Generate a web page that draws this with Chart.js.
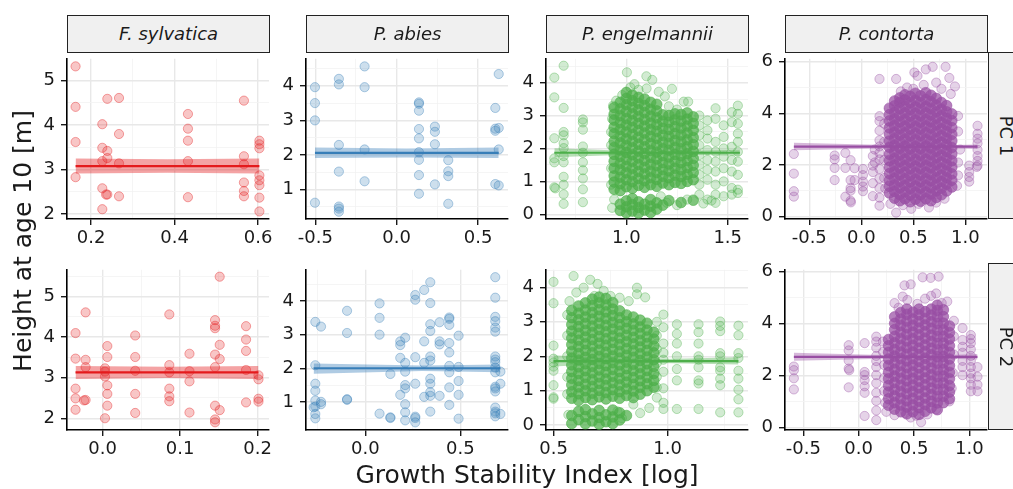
<!DOCTYPE html>
<html>
<head>
<meta charset="utf-8">
<script src="https://cdn.jsdelivr.net/npm/chart.js@4.4.1/dist/chart.umd.min.js"></script>
<style>
  body { margin: 0; background: #fff; width: 1013px; height: 489px; overflow: hidden; position: relative; font-family: "DejaVu Sans", sans-serif; color: #1a1a1a; }
  .pannello { position: absolute; }
  .strip { position: absolute; background: #f0f0f0; border: 1px solid #222; box-sizing: border-box; font-size: 18px; font-style: italic; text-align: center; line-height: 35px; z-index: 2; }
  .stripdx { position: absolute; background: #f0f0f0; border: 1px solid #222; box-sizing: border-box; z-index: 2; overflow: hidden; }
  .stripdx span { position: absolute; left: 50%; top: 50%; width: 100px; margin-left: -50px; height: 24px; margin-top: -12px; line-height: 24px; text-align: center; font-size: 18px; transform: rotate(90deg); }
  .titolo { position: absolute; font-size: 25px; text-align: center; height: 30px; line-height: 30px; white-space: nowrap; }
</style>
</head>
<body>
<script>
// Nomi dei pannelli
const speciesNames = ['F. sylvatica', 'P. abies', 'P. engelmannii', 'P. contorta'];
const rowNames = ['PC 1', 'PC 2'];
const speciesRgb = ['228,26,28', '55,126,184', '77,175,74', '152,78,163'];

// Dati: [x, y]
const sylvPc1 = [[0.163,5.32],[0.163,4.41],[0.163,3.62],[0.163,2.83],[0.227,4.02],[0.227,3.49],[0.227,3.19],[0.227,2.58],[0.227,2.11],[0.239,4.59],[0.239,3.42],[0.239,3.26],[0.239,2.44],[0.236,2.44],[0.267,4.61],[0.267,3.8],[0.267,3.14],[0.267,2.4],[0.432,4.25],[0.432,3.92],[0.432,3.65],[0.432,3.19],[0.432,2.38],[0.566,4.55],[0.566,3.3],[0.566,3.12],[0.566,2.71],[0.566,2.52],[0.566,2.4],[0.603,3.65],[0.603,3.57],[0.603,3.48],[0.603,2.87],[0.603,2.76],[0.603,2.65],[0.603,2.37],[0.603,2.06]];
const abiesPc1 = [[-0.502,3.96],[-0.502,3.5],[-0.502,3.0],[-0.502,0.62],[-0.355,4.2],[-0.355,4.04],[-0.355,2.29],[-0.355,1.52],[-0.355,0.51],[-0.355,0.45],[-0.355,0.36],[-0.197,4.56],[-0.197,3.96],[-0.197,2.16],[-0.197,1.24],[0.137,3.52],[0.137,3.48],[0.137,3.28],[0.137,2.75],[0.137,2.48],[0.137,2.08],[0.137,1.86],[0.137,1.42],[0.137,0.88],[0.235,2.82],[0.235,2.67],[0.235,2.31],[0.235,1.15],[0.317,1.85],[0.317,1.53],[0.317,1.39],[0.317,0.59],[0.606,3.36],[0.606,2.76],[0.606,2.7],[0.627,2.78],[0.627,4.34],[0.627,2.16],[0.606,1.16],[0.627,1.12]];
const engelPc1 = [[0.645,4.15],[0.645,3.55],[0.645,2.31],[0.645,1.7],[0.645,1.58],[0.645,0.82],[0.65,0.79],[0.691,4.51],[0.691,3.23],[0.691,2.5],[0.691,2.4],[0.691,2.16],[0.691,2.01],[0.691,1.77],[0.691,1.58],[0.691,1.14],[0.691,0.9],[0.691,0.61],[0.691,0.32],[0.786,2.88],[0.786,2.79],[0.786,2.57],[0.786,2.06],[0.786,1.87],[0.786,1.58],[0.786,1.34],[0.786,1.09],[0.786,0.76],[0.786,0.37],
  [1.003,4.31],[1.099,4.19],[1.128,4.08],[1.02,3.85],[1.06,3.78],[1.1,3.82],[1.16,3.72],[1.225,3.81],[1.19,3.58],[1.283,3.42],[1.305,3.42],[0.95,3.45],[0.98,3.62],[1.21,3.28],[1.25,3.18],[0.935,3.3],[1.04,3.95],
  [1.36,3.0],[1.36,2.7],[1.36,2.4],[1.36,2.1],[1.36,1.8],[1.36,1.5],[1.36,1.2],[1.36,0.9],[1.36,0.6],[1.4,2.85],[1.4,2.55],[1.4,2.3],[1.4,1.95],[1.4,1.65],[1.4,1.35],[1.4,1.05],[1.4,0.45],[1.44,3.22],[1.44,2.9],[1.44,2.2],[1.44,1.9],[1.44,1.6],[1.44,1.3],[1.44,0.9],[1.44,0.6],[1.44,0.35],[1.48,2.7],[1.48,2.35],[1.48,2.0],[1.48,1.75],[1.48,1.4],[1.48,1.0],[1.48,0.55],[1.52,3.1],[1.52,2.8],[1.52,2.05],[1.52,1.65],[1.52,1.3],[1.52,0.8],[1.52,0.6],[1.55,3.3],[1.55,3.05],[1.55,2.75],[1.55,2.45],[1.55,2.2],[1.55,1.9],[1.55,1.6],[1.55,1.2],[1.55,0.75],[1.55,0.65],
  [1.2,0.35],[1.25,0.28],[1.3,0.45],[1.38,0.33],[1.42,0.42],[1.17,0.55],[0.94,0.45],[0.93,0.2],[0.925,2.5],[0.925,1.4],[0.925,0.9],[0.93,2.9],[0.925,2.1]];
const contPc1 = [[-0.648,2.43],[-0.648,1.67],[-0.648,0.99],[-0.648,0.78],[-0.256,2.37],[-0.256,2.22],[-0.256,1.89],[-0.256,1.42],[-0.153,2.47],[-0.153,1.89],[-0.153,0.78],[-0.103,2.19],[-0.103,1.42],[-0.103,1.11],[-0.103,1.01],[-0.103,0.62],[-0.1,0.56],[-0.064,1.88],[-0.064,1.42],[0.016,1.85],[0.016,1.61],[0.016,1.36],[0.016,1.17],[0.016,0.99],[0.111,2.35],[0.111,1.98],[0.111,1.73],[0.111,1.3],[0.111,0.8],[0.13,2.6],[0.13,2.1],
  [0.175,5.33],[0.175,3.89],[0.175,3.7],[0.175,3.33],[0.175,2.96],[0.175,2.72],[0.175,2.47],[0.175,2.22],[0.175,1.85],[0.175,1.48],[0.175,1.11],[0.175,0.74],[0.175,0.43],
  [0.335,5.33],[0.51,5.58],[0.62,5.7],[0.686,5.8],[0.81,5.8],[0.846,5.37],[0.9,5.04],[0.72,5.19],[0.54,5.45],[0.6,5.1],[0.44,5.0],[0.38,4.85],[0.77,4.95],[0.86,4.75],[0.5,4.95],
  [0.335,0.16],[0.48,0.31],[0.65,0.36],[0.28,0.5],[0.4,0.45],[0.55,0.5],[0.72,0.55],[0.8,0.7],
  [1.037,1.98],[1.037,1.73],[1.037,1.54],[1.037,1.36],[1.117,3.52],[1.117,3.21],[1.117,3.02],[1.117,2.84],[1.117,2.59],[1.117,2.35],[1.117,2.16],[1.117,1.98],[1.11,1.93],
  [0.93,3.9],[0.93,3.3],[0.93,2.1],[0.93,1.6],[0.92,1.2],[0.95,2.6],[0.22,3.6],[0.22,2.9],[0.22,2.2],[0.22,1.5],[0.23,1.1]];
const sylvPc2 = [[-0.035,4.1],[-0.035,3.47],[-0.035,2.73],[-0.035,2.49],[-0.035,2.21],[-0.022,4.61],[-0.022,3.44],[-0.022,3.26],[-0.022,2.45],[-0.024,2.44],[0.003,3.23],[0.003,3.15],[0.003,3.03],[0.003,2.0],[0.006,3.78],[0.006,3.51],[0.006,2.81],[0.006,2.6],[0.006,2.31],[0.042,4.04],[0.042,3.51],[0.042,3.17],[0.042,2.6],[0.042,2.13],[0.086,4.56],[0.086,3.31],[0.086,3.13],[0.086,2.73],[0.086,2.54],[0.086,2.42],[0.112,3.59],[0.112,3.16],[0.112,2.91],[0.112,2.14],[0.145,4.42],[0.145,4.28],[0.145,4.22],[0.145,3.57],[0.145,3.26],[0.145,2.31],[0.145,1.97],[0.145,1.9],[0.151,5.49],[0.151,3.81],[0.151,3.46],[0.151,2.2],[0.185,4.27],[0.185,3.94],[0.185,3.66],[0.185,3.19],[0.185,2.39],[0.201,3.06],[0.201,2.96],[0.201,2.48],[0.201,2.41]];
const abiesPc2 = [[-0.263,3.38],[-0.263,2.09],[-0.263,1.54],[-0.263,1.33],[-0.263,1.04],[-0.263,0.86],[-0.263,0.64],[-0.263,0.51],[-0.272,0.84],[-0.233,3.24],[-0.233,1.0],[-0.233,0.93],[-0.096,3.71],[-0.096,3.05],[-0.096,1.08],[-0.096,1.06],[0.075,3.93],[0.075,3.5],[0.075,3.0],[0.075,0.65],[0.132,1.83],[0.132,0.54],[0.132,0.52],[0.184,2.8],[0.184,2.69],[0.184,2.31],[0.184,1.21],[0.21,2.91],[0.21,2.16],[0.21,1.9],[0.21,1.5],[0.21,1.4],[0.21,0.93],[0.21,0.69],[0.21,0.45],[0.263,4.18],[0.263,4.04],[0.263,2.33],[0.263,1.54],[0.263,0.56],[0.263,0.52],[0.263,0.39],[0.31,4.33],[0.31,2.8],[0.31,2.16],[0.31,1.15],[0.342,4.56],[0.342,3.94],[0.342,3.31],[0.342,3.11],[0.342,2.35],[0.342,2.23],[0.342,1.69],[0.342,1.54],[0.342,1.29],[0.342,1.18],[0.342,0.71],[0.391,3.37],[0.391,2.8],[0.391,2.71],[0.391,1.18],[0.442,3.51],[0.442,3.47],[0.442,3.29],[0.442,2.75],[0.442,2.47],[0.442,2.07],[0.442,1.88],[0.442,1.43],[0.442,0.91],[0.491,2.97],[0.491,2.04],[0.491,1.62],[0.491,1.21],[0.491,0.5],[0.684,4.71],[0.684,4.1],[0.684,3.53],[0.684,3.4],[0.684,3.21],[0.684,3.09],[0.684,2.35],[0.684,2.26],[0.684,2.18],[0.684,2.02],[0.684,1.88],[0.684,1.45],[0.684,1.4],[0.684,1.31],[0.684,0.83],[0.684,0.71],[0.684,0.66],[0.684,0.57],[0.711,1.9],[0.711,1.54],[0.711,0.64]];
const engelPc2 = [[0.5,4.16],[0.5,3.54],[0.5,2.31],[0.5,1.93],[0.5,1.82],[0.5,1.7],[0.5,1.58],[0.5,1.16],[0.5,0.81],[0.5,0.77],
  [0.588,4.33],[0.661,4.22],[0.693,4.1],[0.632,3.99],[0.866,3.99],[0.866,3.8],[0.902,3.71],[0.6,3.85],[0.72,3.9],[0.75,3.75],[0.79,3.7],[0.83,3.6],[0.57,3.6],[0.68,3.75],
  [0.953,3.0],[0.953,2.6],[0.953,2.2],[0.953,1.8],[0.953,1.4],[0.953,1.1],[0.953,0.8],[0.982,3.21],[0.982,2.84],[0.982,2.37],[0.982,2.1],[0.982,1.9],[0.982,1.55],[0.982,1.07],[0.982,0.65],[0.982,0.47],[1.041,2.93],[1.041,2.65],[1.041,2.37],[1.041,2.0],[1.041,1.63],[1.041,1.3],[1.041,0.47],[1.136,2.93],[1.136,2.7],[1.136,2.37],[1.136,2.0],[1.136,1.9],[1.136,1.68],[1.136,1.3],[1.136,1.21],[1.136,0.47],[1.231,3.01],[1.231,2.88],[1.231,2.73],[1.231,2.09],[1.231,2.0],[1.231,1.68],[1.231,1.58],[1.231,1.35],[1.231,1.16],[1.231,0.37],[1.311,2.89],[1.311,2.61],[1.311,2.09],[1.311,1.95],[1.311,1.58],[1.311,1.35],[1.311,1.03],[1.311,0.75],[1.311,0.37],
  [0.92,0.5],[0.88,0.35],[0.85,0.6],[0.8,0.2],[0.78,0.4],[0.56,3.2],[0.56,2.6],[0.56,2.0],[0.56,1.4],[0.56,0.9],[0.565,0.3]];
const contPc2 = [[-0.585,2.34],[-0.585,2.2],[-0.585,1.89],[-0.585,1.46],[-0.09,3.16],[-0.09,2.96],[-0.09,2.57],[-0.09,2.26],[-0.085,2.2],[-0.09,1.54],[0.054,3.24],[0.054,2.13],[0.054,2.01],[0.054,1.82],[0.054,1.58],[0.054,1.33],[0.054,0.44],[0.159,3.49],[0.159,3.3],[0.159,3.06],[0.159,2.75],[0.159,2.55],[0.159,2.32],[0.159,2.01],[0.159,1.7],[0.159,1.33],[0.159,1.02],[0.159,0.65],[0.159,0.28],
  [0.22,3.3],[0.22,2.9],[0.23,2.4],[0.23,1.9],[0.23,1.4],[0.24,0.95],[0.25,0.6],
  [0.578,5.77],[0.65,5.75],[0.722,5.8],[0.414,5.46],[0.47,5.5],[0.324,4.78],[0.398,5.03],[0.654,5.06],[0.75,4.78],[0.8,4.84],[0.53,4.75],[0.44,4.9],[0.6,4.95],[0.7,5.15],[0.36,4.6],
  [0.564,0.2],[0.52,0.45],[0.47,0.38],[0.324,0.47],[0.62,0.5],[0.7,0.7],[0.42,0.55],
  [0.86,4.1],[0.86,3.5],[0.86,2.8],[0.85,2.1],[0.84,1.5],[0.82,1.0],
  [0.938,3.82],[0.938,3.36],[0.938,3.1],[0.938,2.87],[0.938,2.56],[0.938,2.32],[0.938,2.01],[1.013,3.55],[1.013,3.4],[1.013,3.24],[1.013,3.0],[1.013,2.75],[1.013,2.56],[1.013,2.32],[1.013,2.07],[1.013,1.89],[1.013,1.64],[1.013,1.39],[1.073,2.32],[1.073,1.95],[1.073,1.64],[1.073,1.39]];

// Nuvole dense: [x, [y...]] per colonna
const engelPc1Core = [[0.94,[0.76,0.98,1.17,1.4,1.61,1.82,2.03,2.22,2.45,2.64,2.86,3.04,3.24]],[0.97,[0.12,0.31,0.72,0.93,1.13,1.35,1.55,1.76,1.95,2.17,2.37,2.58,2.78,2.99,3.2,3.4]],[1.0,[0.05,0.23,0.41,0.84,1.05,1.26,1.46,1.67,1.88,2.09,2.29,2.5,2.71,2.91,3.12,3.33,3.52,3.7]],[1.03,[0.1,0.3,0.48,0.79,0.99,1.2,1.4,1.61,1.81,2.02,2.22,2.43,2.64,2.84,3.05,3.25,3.45,3.62]],[1.06,[0.04,0.21,0.38,0.88,1.09,1.3,1.51,1.71,1.92,2.13,2.34,2.55,2.76,2.97,3.17,3.37,3.55]],[1.09,[0.13,0.31,0.82,1.02,1.23,1.43,1.64,1.85,2.05,2.26,2.47,2.68,2.88,3.09,3.3,3.5]],[1.12,[0.06,0.25,0.45,0.9,1.11,1.31,1.52,1.73,1.94,2.15,2.36,2.57,2.77,2.98,3.19,3.4]],[1.15,[0.16,0.35,0.85,1.06,1.27,1.48,1.68,1.89,2.1,2.31,2.52,2.72,2.93,3.14,3.34]],[1.18,[0.28,0.95,1.16,1.36,1.57,1.78,1.99,2.19,2.4,2.61,2.82,3.02]],[1.21,[0.42,0.9,1.11,1.32,1.53,1.74,1.95,2.16,2.37,2.58,2.8,3.0]],[1.24,[0.97,1.19,1.4,1.61,1.82,2.03,2.24,2.45,2.66,2.87,3.05]],[1.27,[0.36,0.94,1.15,1.36,1.57,1.78,1.99,2.2,2.41,2.62,2.83,3.03]],[1.3,[1.0,1.21,1.42,1.63,1.84,2.05,2.26,2.47,2.68,2.89,3.08]],[1.33,[0.43,1.05,1.27,1.49,1.7,1.91,2.12,2.33,2.55,2.76,2.96]]];
const contPc1Core = [[0.27,[0.92,1.18,1.41,1.67,1.92,2.18,2.42,2.69,2.93,3.2,3.44,3.71,3.95,4.2]],[0.32,[0.72,0.98,1.23,1.49,1.74,2.0,2.25,2.51,2.76,3.02,3.27,3.53,3.78,4.04,4.29,4.48]],[0.37,[0.62,0.86,1.12,1.37,1.63,1.88,2.14,2.39,2.65,2.9,3.16,3.41,3.67,3.92,4.18,4.43,4.6]],[0.42,[0.7,0.96,1.21,1.47,1.72,1.98,2.23,2.49,2.74,3.0,3.25,3.51,3.76,4.02,4.27,4.52,4.72]],[0.47,[0.58,0.84,1.09,1.35,1.6,1.86,2.11,2.37,2.62,2.88,3.13,3.39,3.64,3.9,4.15,4.41,4.66]],[0.52,[0.68,0.94,1.19,1.45,1.7,1.96,2.21,2.47,2.72,2.98,3.23,3.49,3.74,4.0,4.25,4.51,4.78]],[0.57,[0.6,0.85,1.11,1.36,1.62,1.87,2.13,2.38,2.64,2.89,3.15,3.4,3.66,3.91,4.17,4.42,4.68]],[0.62,[0.7,0.96,1.21,1.47,1.72,1.98,2.23,2.49,2.74,3.0,3.25,3.51,3.76,4.02,4.27,4.53,4.8]],[0.67,[0.62,0.88,1.13,1.39,1.64,1.9,2.15,2.41,2.66,2.92,3.17,3.43,3.68,3.94,4.19,4.45,4.7]],[0.72,[0.75,1.0,1.26,1.51,1.77,2.02,2.28,2.53,2.79,3.04,3.3,3.55,3.81,4.06,4.32,4.58]],[0.77,[0.85,1.1,1.36,1.61,1.87,2.12,2.38,2.63,2.89,3.14,3.4,3.65,3.91,4.16,4.42]],[0.82,[1.0,1.26,1.51,1.77,2.02,2.28,2.53,2.79,3.04,3.3,3.55,3.81,4.06,4.3]],[0.87,[1.15,1.41,1.66,1.92,2.17,2.43,2.68,2.94,3.19,3.45,3.72,3.98]]];
const engelPc2Core = [[0.58,[0.05,0.28,0.78,0.97,1.17,1.36,1.56,1.75,1.95,2.14,2.34,2.53,2.73,2.92,3.12,3.33]],[0.61,[0.16,0.4,0.72,0.91,1.11,1.3,1.5,1.69,1.89,2.08,2.28,2.47,2.67,2.86,3.06,3.25,3.46]],[0.64,[0.04,0.25,0.45,0.8,1.0,1.19,1.39,1.58,1.78,1.97,2.17,2.36,2.56,2.75,2.95,3.14,3.34,3.55]],[0.67,[0.12,0.33,0.74,0.93,1.13,1.32,1.52,1.71,1.91,2.1,2.3,2.49,2.69,2.88,3.08,3.27,3.47,3.66]],[0.7,[0.03,0.22,0.43,0.82,1.01,1.21,1.4,1.6,1.79,1.99,2.18,2.38,2.57,2.77,2.96,3.16,3.35,3.55,3.72]],[0.73,[0.1,0.3,0.76,0.95,1.15,1.34,1.54,1.73,1.93,2.12,2.32,2.51,2.71,2.9,3.1,3.29,3.49,3.68]],[0.76,[0.05,0.24,0.44,0.84,1.03,1.23,1.42,1.62,1.81,2.01,2.2,2.4,2.59,2.79,2.98,3.18,3.37,3.56]],[0.79,[0.15,0.36,0.78,0.97,1.17,1.36,1.56,1.75,1.95,2.14,2.34,2.53,2.73,2.92,3.12,3.32]],[0.82,[0.28,0.86,1.05,1.25,1.44,1.64,1.83,2.03,2.22,2.42,2.61,2.81,3.0,3.2]],[0.85,[0.8,0.99,1.19,1.38,1.58,1.77,1.97,2.16,2.36,2.55,2.75,2.94,3.14]],[0.88,[0.9,1.1,1.29,1.49,1.68,1.88,2.07,2.27,2.46,2.66,2.85,3.05]],[0.91,[1.0,1.2,1.39,1.59,1.78,1.98,2.17,2.37,2.56,2.76,2.96]],[0.94,[1.1,1.3,1.5,1.7,1.9,2.1,2.3,2.5,2.7]]];
const contPc2Core = [[0.27,[0.85,1.1,1.36,1.61,1.87,2.12,2.38,2.63,2.89,3.14,3.38]],[0.325,[0.7,0.95,1.21,1.46,1.72,1.97,2.23,2.48,2.74,2.99,3.25,3.5,3.76,4.0,4.25]],[0.38,[0.6,0.86,1.11,1.37,1.62,1.88,2.13,2.39,2.64,2.9,3.15,3.41,3.66,3.92,4.17,4.42]],[0.435,[0.52,0.78,1.03,1.29,1.54,1.8,2.05,2.31,2.56,2.82,3.07,3.33,3.58,3.84,4.09,4.35,4.55]],[0.49,[0.6,0.86,1.11,1.37,1.62,1.88,2.13,2.39,2.64,2.9,3.15,3.41,3.66,3.92,4.17,4.43]],[0.545,[0.5,0.76,1.01,1.27,1.52,1.78,2.03,2.29,2.54,2.8,3.05,3.31,3.56,3.82,4.07,4.33,4.55]],[0.6,[0.62,0.88,1.13,1.39,1.64,1.9,2.15,2.41,2.66,2.92,3.17,3.43,3.68,3.94,4.19,4.45]],[0.655,[0.75,1.0,1.26,1.51,1.77,2.02,2.28,2.53,2.79,3.04,3.3,3.55,3.81,4.06,4.32,4.55]],[0.71,[0.68,0.94,1.19,1.45,1.7,1.96,2.21,2.47,2.72,2.98,3.23,3.49,3.74,4.0,4.25,4.5,4.7]],[0.765,[0.95,1.2,1.46,1.71,1.97,2.22,2.48,2.73,2.99,3.24,3.5,3.75,4.01,4.26,4.52]],[0.82,[1.1,1.36,1.61,1.87,2.12,2.38,2.63,2.89,3.14,3.4,3.65,3.9]]];

// Retta di regressione con banda: [x, stima, inferiore, superiore]
const sylvPc1Fit = [[0.163,3.08,2.91,3.25],[0.383,3.08,2.93,3.23],[0.603,3.08,2.91,3.25]];
const abiesPc1Fit = [[-0.502,2.06,1.91,2.22],[0.06,2.06,1.93,2.19],[0.627,2.06,1.91,2.22]];
const engelPc1Fit = [[0.645,1.87,1.73,2.01],[1.1,1.87,1.83,1.91],[1.56,1.87,1.78,1.96]];
const contPc1Fit = [[-0.648,2.71,2.57,2.86],[0.55,2.71,2.67,2.75],[1.117,2.71,2.62,2.8]];
const sylvPc2Fit = [[-0.035,3.13,2.97,3.29],[0.083,3.13,2.99,3.27],[0.201,3.13,2.97,3.29]];
const abiesPc2Fit = [[-0.272,2.0,1.84,2.14],[0.3,2.0,1.92,2.08],[0.711,2.0,1.88,2.11]];
const engelPc2Fit = [[0.5,1.86,1.7,2.03],[0.85,1.86,1.82,1.9],[1.311,1.86,1.76,1.97]];
const contPc2Fit = [[-0.585,2.71,2.56,2.87],[0.55,2.71,2.67,2.75],[1.073,2.71,2.61,2.82]];

// Limiti degli assi e tacche
const xLimits = [[0.1425,0.626],[-0.557,0.684],[0.604,1.6],[-0.733,1.208],[-0.046,0.2146],[-0.312,0.751],[0.467,1.353],[-0.665,1.159]];
const yLimits = [[1.89,5.49],[0.15,4.78],[-0.14,4.72],[-0.085,6.11],[1.71,5.66],[0.163,4.93],[-0.14,4.51],[-0.1,6.06]];
const xMajor = [[0.2,0.4,0.6],[-0.5,0,0.5],[1,1.5],[-0.5,0,0.5,1],[0,0.1,0.2],[0,0.5],[0.5,1],[-0.5,0,0.5,1]];
const xMinor = [[0.3,0.5],[-0.25,0.25],[0.75,1.25],[-0.25,0.25,0.75],[0.05,0.15],[-0.25,0.25,0.75],[0.75,1.25],[-0.25,0.25,0.75]];
const yMajor = [[2,3,4,5],[1,2,3,4],[0,1,2,3,4],[0,2,4,6],[2,3,4,5],[1,2,3,4],[0,1,2,3,4],[0,2,4,6]];
const yMinor = [[2.5,3.5,4.5],[0.5,1.5,2.5,3.5,4.5],[0.5,1.5,2.5,3.5,4.5],[1,3,5],[2.5,3.5,4.5,5.5],[0.5,1.5,2.5,3.5,4.5],[0.5,1.5,2.5,3.5,4.5],[1,3,5]];

const panelPoints = [sylvPc1, abiesPc1, engelPc1, contPc1, sylvPc2, abiesPc2, engelPc2, contPc2];
const panelCores = [null, null, engelPc1Core, contPc1Core, null, null, engelPc2Core, contPc2Core];
const panelFits = [sylvPc1Fit, abiesPc1Fit, engelPc1Fit, contPc1Fit, sylvPc2Fit, abiesPc2Fit, engelPc2Fit, contPc2Fit];

// Geometria dei pannelli (pixel)
const colLeft = [67, 306, 546, 785];
const rowTop = [52, 263];
const plotW = 202, plotH = 167;
const yAxisW = 40, xAxisH = 34, padTop = 10, padRight = 20;

const fontTick = { family: 'DejaVu Sans', size: 18 };

function creaAsse(min, max, major, minor, isX) {
  return {
    type: 'linear', min: min, max: max,
    afterBuildTicks: function (s) {
      s.ticks = major.map(v => ({ value: v })).concat(minor.map(v => ({ value: v, minor: true })));
    },
    afterFit: function (s) {
      if (isX) s.height = xAxisH; else s.width = yAxisW;
    },
    ticks: {
      autoSkip: false, maxRotation: 0, minRotation: 0,
      padding: isX ? 3 : 6,
      color: '#1a1a1a', font: fontTick,
      callback: function (v, i, t) { return t[i].minor ? '' : (isX ? v.toFixed(1) : String(v)); }
    },
    grid: {
      color: c => (c.tick && c.tick.minor) ? '#f3f3f3' : '#e8e8e8',
      lineWidth: c => (c.tick && c.tick.minor) ? 0.8 : 1.4,
      tickColor: c => (c.tick && c.tick.minor) ? 'rgba(0,0,0,0)' : '#1a1a1a',
      tickWidth: 1.4,
      tickLength: 6,
      drawTicks: true
    },
    border: { display: true, color: '#000', width: 1.6 }
  };
}

for (let i = 0; i < 8; i++) {
  const col = i % 4, row = Math.floor(i / 4);
  const rgb = speciesRgb[col];
  const wrap = document.createElement('div');
  wrap.className = 'pannello';
  wrap.style.left = (colLeft[col] - yAxisW) + 'px';
  wrap.style.top = (rowTop[row] - padTop) + 'px';
  const cw = yAxisW + plotW + padRight, ch = padTop + plotH + xAxisH;
  const canvas = document.createElement('canvas');
  canvas.width = cw; canvas.height = ch;
  canvas.style.width = cw + 'px'; canvas.style.height = ch + 'px';
  wrap.appendChild(canvas);
  document.body.appendChild(wrap);

  const fit = panelFits[i];
  const datasets = [
    { data: fit.map(r => ({ x: r[0], y: r[1] })), showLine: true, borderColor: 'rgb(' + rgb + ')', borderWidth: 2.2, pointRadius: 0, order: 0 },
    { data: fit.map(r => ({ x: r[0], y: r[3] })), showLine: true, borderColor: 'rgba(0,0,0,0)', borderWidth: 0, pointRadius: 0, fill: '+1', backgroundColor: 'rgba(' + rgb + ',0.4)', order: 1 },
    { data: fit.map(r => ({ x: r[0], y: r[2] })), showLine: true, borderColor: 'rgba(0,0,0,0)', borderWidth: 0, pointRadius: 0, order: 1 },
    { data: panelPoints[i].map(p => ({ x: p[0], y: p[1] })), pointRadius: 4.6, borderWidth: 1, backgroundColor: 'rgba(' + rgb + ',0.25)', borderColor: 'rgba(' + rgb + ',0.38)', order: 2 }
  ];
  if (panelCores[i]) {
    // nuvola fitta: i punti sovrapposti diventano quasi pieni
    datasets.push({ data: panelCores[i].flatMap(c => c[1].map(y => ({ x: c[0], y: y }))), pointRadius: 5.3, borderWidth: 1, backgroundColor: 'rgba(' + rgb + ',0.72)', borderColor: 'rgba(' + rgb + ',0.6)', order: 3 });
  }

  new Chart(canvas, {
    type: 'scatter',
    data: { datasets: datasets },
    options: {
      responsive: false, animation: false, devicePixelRatio: 1, events: [],
      layout: { padding: { left: 0, top: padTop, right: padRight, bottom: 0 } },
      plugins: { legend: { display: false }, tooltip: { enabled: false } },
      scales: {
        x: creaAsse(xLimits[i][0], xLimits[i][1], xMajor[i], xMinor[i], true),
        y: creaAsse(yLimits[i][0], yLimits[i][1], yMajor[i], yMinor[i], false)
      }
    }
  });
}

// Strisce in alto con i nomi delle specie
speciesNames.forEach(function (nome, col) {
  const d = document.createElement('div');
  d.className = 'strip';
  d.style.left = colLeft[col] + 'px'; d.style.top = '15px';
  d.style.width = (plotW + 1) + 'px'; d.style.height = '38px';
  d.textContent = nome;
  document.body.appendChild(d);
});

// Strisce a destra PC 1 / PC 2
rowNames.forEach(function (nome, row) {
  const d = document.createElement('div');
  d.className = 'stripdx';
  d.style.left = '988px'; d.style.top = rowTop[row] + 'px';
  d.style.width = '36px'; d.style.height = plotH + 'px';
  const s = document.createElement('span');
  s.textContent = nome;
  d.appendChild(s);
  document.body.appendChild(d);
});

// Titoli degli assi
const tx = document.createElement('div');
tx.className = 'titolo';
tx.style.left = '227px'; tx.style.width = '600px'; tx.style.top = '460px';
tx.textContent = 'Growth Stability Index [log]';
document.body.appendChild(tx);

const ty = document.createElement('div');
ty.className = 'titolo';
ty.style.left = (23 - 200) + 'px'; ty.style.width = '400px'; ty.style.top = (241 - 15) + 'px';
ty.style.transform = 'rotate(-90deg)';
ty.textContent = 'Height at age 10 [m]';
document.body.appendChild(ty);
</script>
</body>
</html>
